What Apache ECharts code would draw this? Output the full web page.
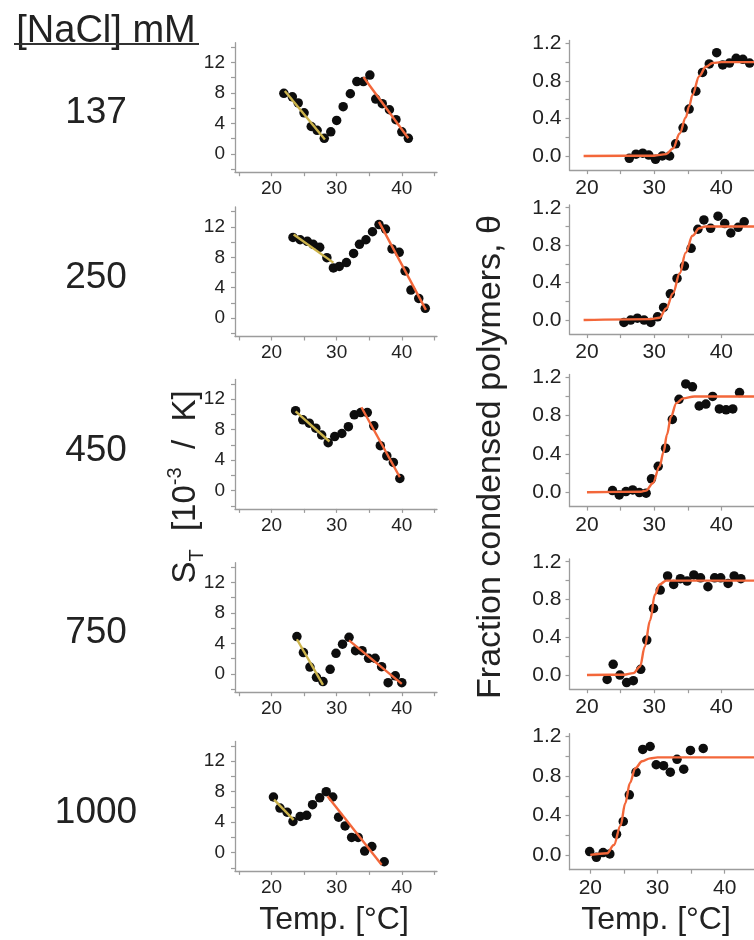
<!DOCTYPE html>
<html>
<head>
<meta charset="utf-8">
<script src="https://cdn.jsdelivr.net/npm/echarts@6/dist/echarts.min.js"></script>
<style>
  html, body { margin: 0; padding: 0; background: #ffffff; }
  #chart { width: 754px; height: 940px; }
</style>
</head>
<body>
<div id="chart"></div>
<script>
// ---- salt concentrations (row labels) ----
const saltLabels = ['137', '250', '450', '750', '1000'];

// ---- tick values ----
const stTickValues = [-2, 0, 2, 4, 6, 8, 10, 12, 14];
const stLabelValues = [0, 4, 8, 12];
const thetaTickValues = [0, 0.2, 0.4, 0.6, 0.8, 1.0, 1.2];
const thetaLabelValues = [0, 0.4, 0.8, 1.2];
const tempTickValues = [15, 20, 25, 30, 35, 40, 45];
const tempLabelValues = [20, 30, 40];

// ---- Soret coefficient S_T [10^-3/K] vs temperature ----
const st137T = [21.9, 23.2, 24.1, 25.0, 26.1, 27.0, 28.1, 29.1, 30.0, 31.0, 32.1, 33.1, 34.1, 35.1, 36.0, 37.0, 38.1, 39.1, 40.0, 41.0];
const st137V = [7.95, 7.5, 6.7, 5.4, 3.6, 3.1, 2.05, 2.9, 4.4, 6.2, 7.9, 9.5, 9.5, 10.35, 7.2, 6.6, 5.8, 4.5, 2.9, 2.05];
const st137FitLow = [[22.05, 8.25], [28.2, 1.9]];
const st137FitHigh = [[34.1, 10.1], [41.0, 2.05]];

const st250T = [23.3, 24.4, 25.5, 26.4, 27.4, 28.5, 29.5, 30.4, 31.5, 32.6, 33.5, 34.5, 35.5, 36.5, 37.5, 38.5, 39.6, 40.5, 41.4, 42.6, 43.6];
const st250V = [10.6, 10.3, 10.1, 9.7, 9.3, 7.95, 6.6, 6.8, 7.3, 8.5, 9.7, 10.3, 11.35, 12.3, 11.7, 9.1, 8.65, 6.2, 3.7, 2.6, 1.3];
const st250FitLow = [[23.4, 11.0], [29.5, 7.3]];
const st250FitHigh = [[36.5, 12.65], [43.7, 1.1]];

const st450T = [23.7, 24.8, 25.8, 26.8, 27.7, 28.7, 29.7, 30.8, 31.8, 32.7, 33.7, 34.7, 35.7, 36.7, 37.7, 38.7, 39.7];
const st450V = [10.5, 9.3, 8.85, 8.2, 7.3, 6.3, 7.1, 7.5, 8.4, 9.95, 10.25, 10.25, 8.5, 5.9, 4.55, 3.7, 1.6];
const st450FitLow = [[23.7, 10.4], [28.9, 6.45]];
const st450FitHigh = [[33.8, 10.95], [39.7, 1.75]];

const st750T = [23.9, 24.9, 25.9, 26.9, 27.9, 29.0, 29.9, 30.9, 31.9, 32.9, 33.9, 34.9, 35.9, 36.9, 37.9, 39.0, 40.0];
const st750V = [4.9, 2.8, 0.9, -0.45, -1.0, 0.6, 2.7, 3.9, 4.8, 3.05, 3.05, 2.05, 2.05, 0.95, -1.15, -0.25, -1.15];
const st750FitLow = [[23.9, 4.55], [27.9, -1.45]];
const st750FitHigh = [[31.9, 4.4], [40.0, -1.3]];

const st1000T = [20.3, 21.3, 22.4, 23.3, 24.4, 25.4, 26.3, 27.4, 28.4, 29.4, 30.3, 31.3, 32.3, 33.3, 34.3, 35.4, 37.3];
const st1000V = [7.3, 5.85, 5.3, 4.1, 4.75, 4.9, 6.3, 7.2, 8.0, 7.3, 4.65, 3.5, 2.0, 2.0, 0.2, 0.8, -1.2];
const st1000FitLow = [[20.4, 6.95], [23.4, 4.3]];
const st1000FitHigh = [[28.6, 7.4], [36.9, -1.6]];

// ---- fraction of condensed polymers θ vs temperature ----
const th137T = [26.3, 27.3, 28.3, 29.2, 30.2, 31.2, 32.3, 33.2, 34.3, 35.2, 36.2, 37.2, 38.2, 39.3, 40.2, 41.2, 42.2, 43.2, 44.2];
const th137V = [-0.025, 0.02, 0.03, 0.01, -0.035, 0.0, 0.0, 0.13, 0.30, 0.50, 0.69, 0.89, 0.98, 1.10, 0.97, 0.99, 1.04, 1.03, 0.99];
const th137FitT = [19.5, 30.0, 31.8, 32.8, 33.8, 34.7, 35.2, 35.7, 36.7, 37.7, 38.7, 40.0, 46.0];
const th137FitV = [0.0, 0.003, 0.02, 0.08, 0.24, 0.41, 0.53, 0.65, 0.85, 0.95, 0.99, 1.0, 1.0];

const th250T = [25.5, 26.5, 27.5, 28.5, 29.5, 30.5, 31.4, 32.4, 33.4, 34.5, 35.5, 36.5, 37.4, 38.4, 39.5, 40.5, 41.4, 42.5, 43.4];
const th250V = [-0.025, 0.0, 0.02, 0.0, -0.025, 0.035, 0.135, 0.28, 0.445, 0.577, 0.766, 0.97, 1.07, 0.98, 1.11, 1.03, 0.93, 0.99, 1.05];
const th250FitT = [19.5, 29.5, 30.8, 31.8, 32.8, 33.8, 34.7, 35.7, 36.7, 37.6, 40.0, 46.0];
const th250FitV = [0.0, 0.01, 0.025, 0.125, 0.285, 0.5, 0.72, 0.90, 0.98, 1.0, 1.0, 1.0];

const th450T = [23.8, 24.8, 25.8, 26.8, 27.8, 28.8, 29.6, 30.6, 31.7, 32.7, 33.7, 34.7, 35.7, 36.7, 37.7, 38.7, 39.7, 40.7, 41.7, 42.7];
const th450V = [0.017, -0.028, 0.007, 0.024, -0.003, -0.01, 0.14, 0.27, 0.46, 0.76, 0.97, 1.13, 1.10, 0.90, 0.92, 1.0, 0.87, 0.86, 0.87, 1.04];
const th450FitT = [20.0, 28.0, 28.8, 29.8, 30.8, 31.4, 31.9, 32.5, 33.3, 34.3, 36.0, 46.0];
const th450FitV = [0.0, 0.005, 0.017, 0.094, 0.27, 0.42, 0.60, 0.79, 0.93, 0.98, 1.0, 1.0];

const th750T = [23.0, 23.9, 24.9, 25.9, 26.9, 28.0, 28.9, 29.9, 30.9, 32.0, 32.9, 33.9, 34.9, 35.9, 36.9, 38.0, 39.0, 39.9, 41.0, 41.9, 42.9];
const th750V = [-0.046, 0.113, 0.0, -0.08, -0.06, 0.06, 0.37, 0.706, 0.90, 1.05, 0.96, 1.02, 0.995, 1.06, 1.03, 0.935, 1.03, 1.03, 0.97, 1.05, 1.02];
const th750FitT = [20.0, 25.5, 26.9, 27.9, 28.6, 29.4, 30.1, 30.8, 31.8, 46.0];
const th750FitV = [0.0, 0.003, 0.02, 0.09, 0.30, 0.58, 0.85, 0.96, 1.0, 1.0];

const th1000T = [19.9, 20.9, 21.9, 22.9, 23.9, 24.9, 25.8, 26.8, 27.8, 28.9, 29.8, 30.9, 31.9, 32.9, 33.9, 34.9, 36.8];
const th1000V = [0.034, -0.024, 0.024, 0.01, 0.21, 0.34, 0.61, 0.84, 1.07, 1.10, 0.915, 0.905, 0.84, 0.97, 0.87, 1.06, 1.08];
const th1000FitT = [20.0, 22.5, 23.5, 24.5, 25.2, 25.9, 26.7, 27.7, 28.9, 30.0, 46.0];
const th1000FitV = [0.0, 0.017, 0.10, 0.30, 0.525, 0.73, 0.88, 0.95, 0.98, 0.99, 0.99];

// ---- per-row groupings ----
const stRows = [
  { t: st137T, v: st137V, low: st137FitLow, high: st137FitHigh },
  { t: st250T, v: st250V, low: st250FitLow, high: st250FitHigh },
  { t: st450T, v: st450V, low: st450FitLow, high: st450FitHigh },
  { t: st750T, v: st750V, low: st750FitLow, high: st750FitHigh },
  { t: st1000T, v: st1000V, low: st1000FitLow, high: st1000FitHigh }
];
const thRows = [
  { t: th137T, v: th137V, ft: th137FitT, fv: th137FitV },
  { t: th250T, v: th250V, ft: th250FitT, fv: th250FitV },
  { t: th450T, v: th450V, ft: th450FitT, fv: th450FitV },
  { t: th750T, v: th750V, ft: th750FitT, fv: th750FitV },
  { t: th1000T, v: th1000V, ft: th1000FitT, fv: th1000FitV }
];

// ---- layout ----
const FONT = '"Liberation Sans", Arial, Helvetica, sans-serif';
const TEXT = '#222222';
const AXIS = '#9c9c9c';
const DOT = '#0d0d0d';
const FIT_LOW = '#cdb44c';
const FIT_HIGH = '#f3673a';

const leftTops = [42.7, 207, 379.4, 562.7, 741.4];
const rightTops = [40.5, 204.9, 374.4, 558.9, 733.7];
const rightHeights = [129.6, 129.2, 132.2, 130.3, 136];
const rightXMin = [17.4, 17.4, 17.4, 17.4, 16.9];
const rowLabelY = [113, 278, 451, 633, 813];

const grids = [], xAxes = [], yAxes = [], series = [];

function axisCommon(labelSize, margin) {
  return {
    axisLine: { show: true, onZero: false, lineStyle: { color: AXIS, width: 1.3 } },
    axisTick: { show: true, inside: false, length: 4, lineStyle: { color: AXIS, width: 1.2 } },
    splitLine: { show: false },
    axisLabel: { color: TEXT, fontSize: labelSize, fontFamily: FONT, margin: margin }
  };
}

for (let i = 0; i < 5; i++) {
  // left: S_T panel
  grids.push({ left: 235, top: leftTops[i], width: 202, height: 129.5, outerBoundsMode: 'none', containLabel: false });
  const lx = axisCommon(19, 7);
  lx.axisTick.customValues = tempTickValues;
  lx.axisLabel.customValues = tempLabelValues;
  xAxes.push(Object.assign({ type: 'value', gridIndex: i, min: 14.4, max: 45.4 }, lx));
  const ly = axisCommon(19, 10);
  ly.axisTick.customValues = stTickValues;
  ly.axisLabel.customValues = stLabelValues;
  yAxes.push(Object.assign({ type: 'value', gridIndex: i, min: -2.4, max: 14.6 }, ly));
}
for (let i = 0; i < 5; i++) {
  // right: θ panel
  const xMin = rightXMin[i];
  grids.push({ left: 569.5, top: rightTops[i], width: (46 - xMin) * 6.72, height: rightHeights[i], outerBoundsMode: 'none', containLabel: false });
  const rx = axisCommon(21, 8);
  rx.axisTick.customValues = tempTickValues.filter(v => v > xMin);
  rx.axisLabel.customValues = tempLabelValues;
  xAxes.push(Object.assign({ type: 'value', gridIndex: 5 + i, min: xMin, max: 46 }, rx));
  const ry = axisCommon(21, 8);
  ry.axisTick.customValues = thetaTickValues;
  ry.axisLabel.customValues = thetaLabelValues;
  ry.axisLabel.formatter = v => v.toFixed(1);
  yAxes.push(Object.assign({ type: 'value', gridIndex: 5 + i, min: -0.15, max: 1.23 }, ry));
}

stRows.forEach((row, i) => {
  series.push({
    type: 'scatter', xAxisIndex: i, yAxisIndex: i, z: 2,
    symbol: 'circle', symbolSize: 9.5, itemStyle: { color: DOT, opacity: 1 },
    data: row.t.map((t, k) => [t, row.v[k]])
  });
  series.push({
    type: 'line', xAxisIndex: i, yAxisIndex: i, z: 3, showSymbol: false, silent: true,
    lineStyle: { color: FIT_LOW, width: 2.4 }, data: row.low
  });
  series.push({
    type: 'line', xAxisIndex: i, yAxisIndex: i, z: 3, showSymbol: false, silent: true,
    lineStyle: { color: FIT_HIGH, width: 2.4 }, data: row.high
  });
});

thRows.forEach((row, i) => {
  const idx = 5 + i;
  series.push({
    type: 'scatter', xAxisIndex: idx, yAxisIndex: idx, z: 2,
    symbol: 'circle', symbolSize: 9.5, itemStyle: { color: DOT, opacity: 1 },
    data: row.t.map((t, k) => [t, row.v[k]])
  });
  series.push({
    type: 'line', xAxisIndex: idx, yAxisIndex: idx, z: 3, showSymbol: false, silent: true,
    smooth: 0.35, smoothMonotone: 'x',
    lineStyle: { color: FIT_HIGH, width: 2.4 },
    data: row.ft.map((t, k) => [t, row.fv[k]])
  });
});

// ---- text: header, row labels, axis titles ----
const graphic = [
  { type: 'text', x: 106, y: 32, style: { text: '[NaCl] mM', fill: TEXT, font: '38px ' + FONT, align: 'center', verticalAlign: 'middle' } },
  { type: 'line', shape: { x1: 14, y1: 44, x2: 199, y2: 44 }, style: { stroke: '#333', lineWidth: 2 } },
  {
    type: 'text', x: 186, y: 487, rotation: Math.PI / 2,
    style: {
      text: '{b|S}{sub|T}{b|  [10}{sup|-3}{b|  /  K]}',
      align: 'center', verticalAlign: 'middle', fill: TEXT,
      rich: {
        b: { fontSize: 33, fontFamily: FONT, fill: TEXT, lineHeight: 42 },
        sub: { fontSize: 20, fontFamily: FONT, fill: TEXT, verticalAlign: 'bottom', lineHeight: 42 },
        sup: { fontSize: 20, fontFamily: FONT, fill: TEXT, verticalAlign: 'top', lineHeight: 42 }
      }
    }
  },
  { type: 'text', x: 491, y: 457, rotation: Math.PI / 2, style: { text: 'Fraction condensed polymers, θ', fill: TEXT, font: '34px ' + FONT, align: 'center', verticalAlign: 'middle' } },
  { type: 'text', x: 334, y: 920, style: { text: 'Temp. [°C]', fill: TEXT, font: '32px ' + FONT, align: 'center', verticalAlign: 'middle' } },
  { type: 'text', x: 656, y: 920, style: { text: 'Temp. [°C]', fill: TEXT, font: '32px ' + FONT, align: 'center', verticalAlign: 'middle' } }
];
saltLabels.forEach((s, i) => {
  graphic.push({ type: 'text', x: 96, y: rowLabelY[i], style: { text: s, fill: TEXT, font: '37px ' + FONT, align: 'center', verticalAlign: 'middle' } });
});

const chart = echarts.init(document.getElementById('chart'), null, { renderer: 'canvas' });
chart.setOption({
  animation: false,
  backgroundColor: '#ffffff',
  grid: grids,
  xAxis: xAxes,
  yAxis: yAxes,
  series: series,
  graphic: graphic
});
</script>
</body>
</html>
